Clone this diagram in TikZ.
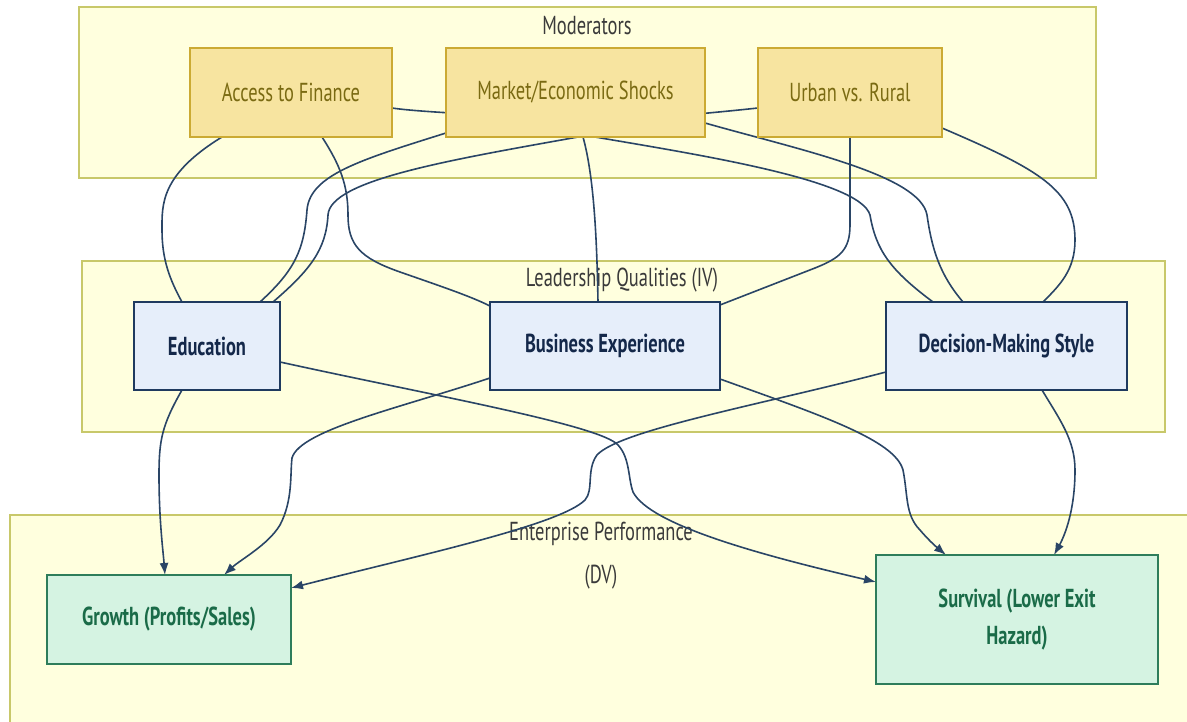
\documentclass[tikz,border=0pt]{standalone}
\usepackage{fontspec}
\setmainfont{PT Sans}[FakeStretch=0.71]
\usepackage{xcolor}
\usepackage{tikz}
\usetikzlibrary{arrows.meta,positioning,calc}
\definecolor{clfill}{HTML}{FFFFDE}
\definecolor{clline}{HTML}{C8C86A}
\definecolor{cltext}{HTML}{3A3A3A}
\definecolor{modfill}{HTML}{F7E4A0}
\definecolor{modline}{HTML}{CBAA33}
\definecolor{modtext}{HTML}{7A6A12}
\definecolor{leadfill}{HTML}{E6EEFA}
\definecolor{leadline}{HTML}{1F3A5F}
\definecolor{leadtext}{HTML}{14284A}
\definecolor{perffill}{HTML}{D5F3E2}
\definecolor{perfline}{HTML}{2E7D5B}
\definecolor{perftext}{HTML}{1A6B48}
\definecolor{edge}{HTML}{2A4566}
\pgfdeclarelayer{back}
\pgfdeclarelayer{edges}
\pgfsetlayers{back,edges,main}

\begin{document}
\begin{tikzpicture}[
  x=1pt, y=-1pt,
  font=\fontsize{26}{31}\selectfont,
  cluster/.style={draw=clline, fill=clfill, line width=1.5pt},
  clabel/.style={text=cltext, align=center, inner sep=0pt},
  mod/.style={draw=modline, fill=modfill, text=modtext, line width=1.5pt,
              outer sep=0pt, minimum height=89pt},
  lead/.style={draw=leadline, fill=leadfill, text=leadtext, font=\fontsize{26}{31}\selectfont\bfseries,
              line width=2pt, outer sep=0pt, minimum height=88pt},
  perf/.style={draw=perfline, fill=perffill, text=perftext, font=\fontsize{26}{31}\selectfont\bfseries,
              line width=2pt, outer sep=0pt, align=center},
  link/.style={draw=edge, line width=1.6pt},
  ar/.style={link, -{Latex[length=12pt,width=9pt]}}
]
\useasboundingbox (0,0) rectangle (1187,722);
\clip (0,0) rectangle (1187,722);

% subgraph boxes
\begin{pgfonlayer}{back}
\draw[cluster] (79,7) rectangle (1096,178);
\draw[cluster] (82,261) rectangle (1165,432);
\draw[cluster] (10,515) rectangle (1210,745);
\node[clabel] (modlabel) at (587,26) {Moderators};
\node[clabel] (ivlabel) at (622,280) {Leadership Qualities (IV)};
\node[clabel] (dvlabel) at (601,556) {Enterprise Performance\\[12pt](DV)};
\end{pgfonlayer}

% moderators
\node[mod, minimum width=202pt] (finance) at (291,92.5) {Access to Finance};
\node[mod, minimum width=259pt, right=54pt of finance] (shocks) {Market/Economic Shocks};
\node[mod, minimum width=184pt, right=53pt of shocks] (urban) {Urban vs. Rural};

% leadership qualities
\node[lead, minimum width=146pt] (edu) at (207,346) {Education};
\node[lead, minimum width=230pt, right=210pt of edu] (bizexp) {Business Experience};
\node[lead, minimum width=241pt, right=166pt of bizexp] (decide) {Decision-Making Style};

% performance
\node[perf, minimum width=244pt, minimum height=89pt] (growth) at (169,619.5) {Growth (Profits/Sales)};
\node[perf, minimum width=282pt, minimum height=129pt, right=585pt of growth] (survive)
  {Survival (Lower Exit\\[6pt]Hazard)};

\begin{pgfonlayer}{edges}
% moderator links
\draw[link] ($(finance.south west)+(32,0)$) .. controls (160,175) and (162,205) .. (162,230)
  .. controls (162,260) and (170,280) .. ($(edu.north west)+(48,0)$);
\draw[link] ($(finance.south west)+(132,0)$) .. controls (340,165) and (348,185) .. (348,215)
  .. controls (348,245) and (360,258) .. (400,272) .. controls (440,286) and (470,296) .. ($(bizexp.north west)+(0,4)$);
\draw[link] ($(finance.north east)+(0,60)$) .. controls (430,114) and (600,120) .. (705,123)
  .. controls (800,150) and (920,175) .. (927,215) .. controls (932,250) and (940,275) .. ($(decide.north west)+(77,0)$);
\draw[link] ($(shocks.south west)+(132,0)$) .. controls (450,160) and (330,180) .. (328,215)
  .. controls (326,250) and (310,270) .. ($(edu.north west)+(139,0)$);
\draw[link] ($(shocks.south west)+(137,0)$) .. controls (595,180) and (597,250) .. ($(bizexp.north west)+(108,0)$);
\draw[link] ($(shocks.south west)+(149,0)$) .. controls (700,155) and (860,180) .. (870,215)
  .. controls (876,250) and (890,270) .. ($(decide.north west)+(47,0)$);
\draw[link] ($(urban.north west)+(0,60)$) .. controls (600,125) and (500,125) .. (446,133)
  .. controls (360,160) and (310,175) .. (307,210) .. controls (304,250) and (295,270) .. ($(edu.north west)+(126,0)$);
\draw[link] ($(urban.south west)+(92,0)$) -- (850,225) .. controls (850,250) and (840,258) .. (815,268)
  -- ($(bizexp.north east)+(0,3)$);
\draw[link] ($(urban.north east)+(0,80)$) .. controls (1040,170) and (1075,190) .. (1075,240)
  .. controls (1075,270) and (1060,285) .. ($(decide.north west)+(157,0)$);

% effects on performance
\draw[ar] ($(edu.south west)+(48,0)$) .. controls (162,425) and (159,440) .. (159,475)
  .. controls (159,520) and (163,550) .. ($(growth.north west)+(118,0)$);
\draw[ar] ($(edu.north east)+(0,60)$) .. controls (430,395) and (600,425) .. (618,445)
  .. controls (630,458) and (628,478) .. (633,492) .. controls (650,525) and (760,555) .. ($(survive.north west)+(0,27)$);
\draw[ar] ($(bizexp.south west)+(0,-12)$) .. controls (400,408) and (300,430) .. (292,458)
  .. controls (290,475) and (293,500) .. (280,525) .. controls (268,545) and (240,560) .. ($(growth.north west)+(177,0)$);
\draw[ar] ($(bizexp.south east)+(0,-11)$) .. controls (820,415) and (895,440) .. (903,470)
  .. controls (908,495) and (905,515) .. (920,530) .. controls (930,542) and (940,550) .. ($(survive.north west)+(70,0)$);
\draw[ar] ($(decide.north west)+(0,70)$) .. controls (760,405) and (620,430) .. (597,455)
  .. controls (586,470) and (594,490) .. (585,500) .. controls (560,525) and (420,555) .. ($(growth.north east)+(0,13)$);
\draw[ar] ($(decide.south west)+(156,0)$) .. controls (1060,420) and (1075,440) .. (1075,470)
  .. controls (1075,510) and (1065,535) .. ($(survive.north west)+(178,0)$);
\end{pgfonlayer}
\end{tikzpicture}
\end{document}
